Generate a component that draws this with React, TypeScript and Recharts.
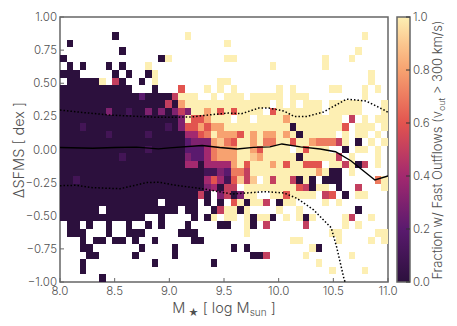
import React from "react";
import {
  ScatterChart, Scatter, XAxis, YAxis, ReferenceArea, Label, BarChart, Bar,
} from "recharts";

const FONT = "Inter, 'Open Sans', sans-serif";
const INK = "#505050";
const FRAME = "#666666";

const xTicks = [8, 8.5, 9, 9.5, 10, 10.5, 11];
const yTicks = [-1, -0.75, -0.5, -0.25, 0, 0.25, 0.5, 0.75, 1];
const barTicks = [0, 0.2, 0.4, 0.6, 0.8, 1];

// Fraction per bin, top row first: '.' empty, 0-9 tenths, 'a' = 1.0
const rows = [
  ".......... .......... .......... .......... ..........",
  ".......... .......... .......... .......... ..........",
  "........0. .........a .......... .......... ......a...",
  ".0........ .......... .....a.... .......... ..........",
  ".........0 .......... .......... .......... .....a....",
  "0......... .....0a... .....aa... .......... a...a.....",
  ".0.0...0.0 ...a...... .......... ..a....... a.........",
  "000.....0. 0..0a..... .......... .......... .......a..",
  ".00000a.50 ..0.a..... ....aa.... .......... .......a..",
  "0000000000 0...0...6. ..a.a.a... ...a.a.... .aa...a.a.",
  "0000000000 00200005aa a..a.aaa.a aaaa.aaa.. ......a...",
  "0000000000 000000508a aaaaaaaaaa aa.a.a.aaa .aaaaa...a",
  "0000000300 1003030353 aa8a6a6aaa a.6aaaaaaa .aaaaa...a",
  "0000000000 000000003a 668aaa.aa. aaaa8aaaaa aaa.5.a.aa",
  "0001000000 0000001036 68688aaaaa aaaaa0aaaa aaa6.aaa.a",
  "0000000100 0001000004 467a8886a8 a88a8a0aaa aa.a.aa.a.",
  "0000000000 0000000002 3338976aa8 a77aa6aa87 775a.0.a.a",
  "0000000000 0001000002 2247888aa8 6aaaa.a6aa a..0.aa.a.",
  "0000000001 0000000003 2247888aa9 8aaaaa0aaa aa5.a...a.",
  "0000000000 0000000004 4044448a6a aa8a6aa666 .aa5a05.a.",
  "0000000000 0000000000 001132775a aaaaaaaaa8 a00.a.....",
  "0010000000 0000000000 0046416959 .a5aa50a0. 000.....7a",
  "0000000000 0000000000 0034055.aa aaaaaa650a a.0..5...a",
  "0000000000 0000000000 050.3503aa ..aa6aaaa. 56.0.aa...",
  "0000000000 00000.0000 0.0.0.6a0a a5.0aa.... a.a.......",
  "000000.000 00000000.0 0..05aa0a. ...a..a... .....0....",
  "0000000000 000..0.... 0.0a.aa.a0 aa0.a.a0a. ...a5..a..",
  ".00.0..0.. 0..0.0...0 ....00..a0 .5.....5.. ...a.a....",
  ".000...0.. 000.....00 0.......a. .......... .aa.....aa",
  "...0.00.00 .0..0..... 00........ .....aa... ..a....a.a",
  "...00..... ..0....0.. ......0.0. ........a0 ..........",
  "....00.... .0.....0.. .........0 05.....a.. ....a.....",
  "...0...... ....0..... ...0...... .........a ..........",
  "...0...... .......... .......... .......... .a....a...",
  "......0... .......... .......... .......... ..........",
];

const medianX = [8, 8.3, 8.5, 8.7, 8.9, 9, 9.3, 9.46, 9.62, 9.77, 9.92, 10.03, 10.2, 10.38, 10.52, 10.66, 10.88, 11];
const medianY = [0.015, 0.01, 0.015, 0.018, 0.005, 0.012, 0.03, 0.015, 0.004, 0.016, 0.02, 0.042, 0.02, 0.004, -0.017, -0.085, -0.23, -0.2];
const upperX = [8, 8.2, 8.46, 8.88, 9.2, 9.33, 9.54, 9.66, 9.82, 9.91, 10.05, 10.14, 10.26, 10.41, 10.62, 10.8, 10.96, 11];
const upperY = [0.298, 0.28, 0.26, 0.243, 0.245, 0.258, 0.275, 0.27, 0.313, 0.313, 0.29, 0.25, 0.25, 0.283, 0.38, 0.366, 0.3, 0.28];
const lowerX = [8, 8.15, 8.3, 8.55, 8.79, 8.91, 9.02, 9.33, 9.57, 9.88, 10.05, 10.17, 10.32, 10.48, 10.53, 10.6, 10.61];
const lowerY = [-0.273, -0.27, -0.288, -0.296, -0.25, -0.247, -0.265, -0.3, -0.336, -0.318, -0.328, -0.37, -0.456, -0.59, -0.735, -0.985, -1];

const colorPos = [0, 0.2, 0.4, 0.6, 0.8, 0.9, 1];
const colorVal = ["#2c103d", "#5a1a6e", "#a3296f", "#e2544f", "#f7a270", "#fbc78f", "#fdefb3"];

const hex = (c: string) => [1, 3, 5].map((i) => parseInt(c.slice(i, i + 2), 16));
function colorOf(v: number) {
  let i = 0;
  while (i < colorPos.length - 2 && v > colorPos[i + 1]) i++;
  const t = (v - colorPos[i]) / (colorPos[i + 1] - colorPos[i]);
  const a = hex(colorVal[i]);
  const b = hex(colorVal[i + 1]);
  const m = a.map((n, k) => Math.round(n + (b[k] - n) * t));
  return `rgb(${m[0]},${m[1]},${m[2]})`;
}

const NX = 50;
const NY = 35;
const cells: { x: number; y: number; v: number }[] = [];
rows.forEach((row, r) => {
  row.replace(/ /g, "").split("").forEach((ch, c) => {
    if (ch === ".") return;
    cells.push({
      x: 8 + ((c + 0.5) * 3) / NX,
      y: 1 - ((r + 0.5) * 2) / NY,
      v: ch === "a" ? 1 : Number(ch) / 10,
    });
  });
});
const toPoints = (xs: number[], ys: number[]) => xs.map((x, i) => ({ x, y: ys[i] }));

const PLOT_LEFT = 60;
const PLOT_RIGHT = 388;
const PLOT_TOP = 17;
const PLOT_BOTTOM = 282;
const CELL_W = (PLOT_RIGHT - PLOT_LEFT) / NX;
const CELL_H = (PLOT_BOTTOM - PLOT_TOP) / NY;

const CellShape = (p: any) => (
  <rect
    x={p.cx - CELL_W / 2}
    y={p.cy - CELL_H / 2}
    width={CELL_W}
    height={CELL_H}
    shapeRendering="crispEdges"
    fill={colorOf(p.payload.v)}
  />
);
const NoPoint = () => <g />;

const tickStyle = { fontFamily: FONT, fontWeight: 300, fontSize: 11.5, fill: INK };
const labelBase = { fontFamily: FONT, fontWeight: 300, fill: INK };

const XLabel = () => (
  <text x={224} y={313} textAnchor="middle" fontSize={14.5} {...labelBase}>
    M
    <tspan fontSize={10} dy={3}> ★</tspan>
    <tspan dy={-3}> [ log M</tspan>
    <tspan fontSize={10} dy={3}>sun</tspan>
    <tspan dy={-3}> ]</tspan>
  </text>
);
const YLabel = () => (
  <text
    x={0}
    y={0}
    transform="translate(24 150) rotate(-90)"
    textAnchor="middle"
    fontSize={14.5}
    {...labelBase}
  >
    ΔSFMS [ dex ]
  </text>
);
const BarLabel = () => (
  <text
    x={0}
    y={0}
    transform="translate(442 150) rotate(-90)"
    textAnchor="middle"
    fontSize={13}
    {...labelBase}
  >
    Fraction w/ Fast Outflows (v
    <tspan fontSize={9} dy={3}>out</tspan>
    <tspan dy={-3}> &gt; 300 km/s)</tspan>
  </text>
);

const fmtY = (v: number) => (v < 0 ? "\u2212" : "") + Math.abs(v).toFixed(2);

export default function App() {
  return (
    <div style={{ position: "absolute", left: 0, top: 0, width: 457, height: 326 }}>
      <div style={{ position: "absolute", left: 0, top: 0 }}>
        <ScatterChart
          width={457}
          height={326}
          margin={{ top: PLOT_TOP, right: 457 - PLOT_RIGHT, bottom: 0, left: 0 }}
        >
          <XAxis
            type="number"
            dataKey="x"
            domain={[8, 11]}
            ticks={xTicks}
            height={326 - PLOT_BOTTOM}
            allowDataOverflow
            interval={0}
            axisLine={false}
            tickLine={{ stroke: FRAME }}
            tickSize={-4}
            tickMargin={9}
            tick={tickStyle}
            tickFormatter={(v: number) => v.toFixed(1)}
          >
            <Label content={XLabel} />
          </XAxis>
          <YAxis
            type="number"
            dataKey="y"
            domain={[-1, 1]}
            ticks={yTicks}
            width={PLOT_LEFT}
            allowDataOverflow
            interval={0}
            axisLine={false}
            tickLine={{ stroke: FRAME }}
            tickSize={-4}
            tickMargin={7}
            tick={tickStyle}
            tickFormatter={fmtY}
          >
            <Label content={YLabel} />
          </YAxis>
          <Scatter data={cells} shape={CellShape} isAnimationActive={false} />
          <Scatter
            data={toPoints(medianX, medianY)}
            shape={NoPoint}
            line={{ stroke: "#000", strokeWidth: 1.4 }}
            isAnimationActive={false}
          />
          <Scatter
            data={toPoints(upperX, upperY)}
            shape={NoPoint}
            line={{ stroke: "#000", strokeWidth: 1.5, strokeDasharray: "1.5 2" }}
            isAnimationActive={false}
          />
          <Scatter
            data={toPoints(lowerX, lowerY)}
            shape={NoPoint}
            line={{ stroke: "#000", strokeWidth: 1.5, strokeDasharray: "1.5 2" }}
            isAnimationActive={false}
          />
          <ReferenceArea x1={8} x2={11} y1={-1} y2={1} fill="none" stroke={FRAME} strokeWidth={1.5} />
        </ScatterChart>
      </div>
      <div style={{ position: "absolute", left: 0, top: 0 }}>
        <BarChart
          width={457}
          height={326}
          data={[{ name: "fraction", v: 1 }]}
          margin={{ top: PLOT_TOP, right: 0, bottom: 326 - PLOT_BOTTOM, left: 397 }}
          barCategoryGap={0}
        >
          <defs>
            <linearGradient id="cbar" x1="0" y1="1" x2="0" y2="0">
              {colorPos.map((p, i) => (
                <stop key={p} offset={p} stopColor={colorVal[i]} />
              ))}
            </linearGradient>
          </defs>
          <XAxis dataKey="name" hide />
          <YAxis
            orientation="right"
            domain={[0, 1]}
            ticks={barTicks}
            width={47}
            interval={0}
            axisLine={false}
            tickLine={{ stroke: "#333" }}
            tickSize={-4}
            tickMargin={7}
            tick={tickStyle}
            tickFormatter={(v: number) => v.toFixed(1)}
          >
            <Label content={BarLabel} />
          </YAxis>
          <Bar dataKey="v" fill="url(#cbar)" stroke={FRAME} strokeWidth={1.5} isAnimationActive={false} />
        </BarChart>
      </div>
    </div>
  );
}
